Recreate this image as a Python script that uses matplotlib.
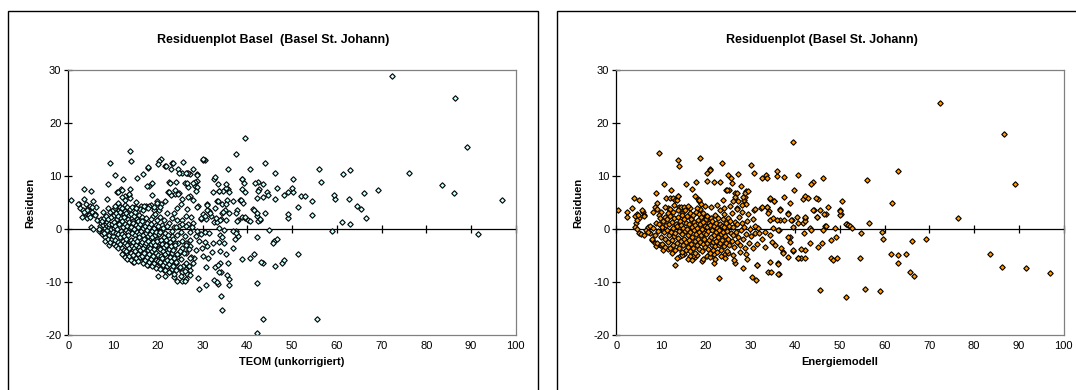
import matplotlib.pyplot as plt
from matplotlib.patches import Rectangle

plt.rcParams['font.family'] = ['Liberation Sans', 'DejaVu Sans']
plt.rcParams['axes.unicode_minus'] = False

# Residuen gegen TEOM (unkorrigiert)
teom_points = [
    (0.5, 5.5), (2.3, 4.7), (2.6, 3.9), (3.6, 7.5), (5.0, 7.2), (3.4, 5.7), (4.0, 4.8), (4.4, 3.9),
    (4.8, 4.4), (5.6, 5.3), (5.4, 3.3), (3.7, 3.0), (4.2, 2.0), (5.0, 0.3), (5.5, 0.0), (6.0, 2.8),
    (6.2, 4.1), (3.2, 3.6), (4.6, 2.6), (3.1, 2.3), (2.2, 4.8), (4.1, 3.6), (5.2, 4.1), (6.0, 2.6),
    (3.4, 3.3), (4.9, 2.3), (6.5, 1.7), (8.6, 5.6), (7.8, 3.3), (8.9, 3.9), (11.2, 4.8),
    (20.8, 13.2), (20.3, 12.8), (20.0, 12.3), (21.6, 11.9), (23.2, 12.5), (25.6, 12.6), (24.5, 11.4),
    (22.9, 11.3), (22.5, 8.8), (25.5, 10.6), (26.5, 10.5), (27.1, 10.3), (27.8, 11.3), (28.8, 10.3),
    (28.8, 9.1), (28.3, 8.2), (28.3, 8.9), (26.7, 8.0), (26.1, 8.7), (30.6, 13.1), (30.2, 13.0),
    (32.5, 9.5), (33.4, 8.4), (33.7, 7.1), (32.3, 6.9), (33.2, 5.2), (30.9, 4.7), (29.0, 4.3),
    (31.5, 3.4), (30.2, 2.8), (29.6, 1.9), (30.7, 1.9), (31.8, 2.5), (32.6, 1.3), (33.3, 1.4),
    (34.4, 3.1), (34.1, 1.9), (35.1, 3.5), (24.0, 8.9), (24.7, 6.7), (23.9, 6.6), (23.0, 6.4),
    (22.2, 6.9), (25.5, 5.7), (27.2, 6.2), (25.2, 4.7), (24.4, 3.9), (23.6, 3.0), (23.2, 2.0),
    (24.4, 1.7), (25.5, 1.7), (26.3, 2.5), (27.5, 2.3), (27.8, 1.1), (22.1, 3.0), (21.3, 1.7),
    (20.2, 3.6), (20.7, 4.7), (19.8, 5.2), (18.6, 6.4), (18.7, 8.7), (18.0, 8.2), (17.7, 11.6),
    (16.8, 10.4), (15.4, 9.7), (13.8, 14.8), (13.9, 12.8), (12.2, 9.4), (10.5, 10.2), (9.3, 12.5),
    (8.8, 8.5), (10.8, 7.0), (11.7, 7.5), (12.6, 6.3), (13.6, 6.4), (13.8, 7.5), (15.2, 5.1),
    (16.3, 4.4), (17.4, 4.3), (18.5, 4.5), (19.2, 3.5), (19.0, 2.5), (19.8, 1.7), (20.9, 0.8),
    (22.5, 1.1), (23.6, 0.4), (24.8, 0.6), (26.7, 0.9), (27.6, 0.4), (28.7, -0.4),
    (17.9, 11.7), (17.5, 8.2), (19.9, 5.0), (21.8, 11.9), (23.5, 12.5), (24.8, 10.5), (26.7, 10.6),
    (22.7, 8.7), (23.8, 7.4), (24.5, 6.6), (22.4, 7.0), (21.6, 5.2), (20.5, 4.2), (19.2, 4.1),
    (18.1, 4.4), (16.0, 3.8), (14.9, 4.1), (13.8, 5.8), (12.7, 5.5), (11.9, 6.0), (11.0, 7.0),
    (11.9, 7.4), (13.6, 6.6),
    (26.3, 10.6), (26.6, 8.6), (27.9, 8.6), (28.7, 10.2), (28.8, 8.0), (28.5, 7.2), (30.0, 13.2),
    (26.8, 6.0), (27.9, 5.5), (26.5, 3.8), (28.8, 4.1), (29.7, 2.0), (30.6, 2.5), (31.1, 3.6),
    (31.7, 3.1), (30.9, 4.5), (32.7, 3.9), (32.9, 2.1), (33.9, 1.7), (34.6, 3.3), (35.2, 1.7),
    (34.3, 4.8), (33.5, 5.2), (35.9, 3.0), (36.7, 5.3), (37.6, 3.6), (38.0, 1.7), (38.8, 2.2),
    (39.5, 2.1), (40.2, 1.7), (41.2, 3.7), (42.1, 2.5), (42.8, 1.7), (34.6, 7.2), (35.7, 7.5),
    (33.6, 7.2), (38.9, 9.4), (38.8, 7.5), (38.4, 5.5),
    (20.0, -8.9), (21.7, -8.9), (21.4, -7.7), (22.5, -8.1), (22.8, -7.1), (23.6, -9.0), (24.4, -9.8),
    (25.5, -9.9), (26.2, -9.5), (26.6, -8.4), (25.5, -8.1), (24.8, -7.4), (24.0, -6.5), (23.2, -5.8),
    (24.4, -5.2), (25.7, -6.9), (26.8, -6.9), (27.1, -7.7), (27.8, -6.5), (28.2, -5.4), (28.6, -4.0),
    (29.0, -9.2), (29.2, -11.3), (30.7, -10.6), (32.5, -9.6), (33.5, -10.3), (30.8, -7.1),
    (31.2, -5.5), (30.2, -5.1), (29.8, -3.5), (30.9, -3.3), (30.5, -2.5), (29.2, -2.2), (28.5, -1.4),
    (29.6, -1.0), (30.6, -0.5), (31.5, -0.8), (32.3, -2.7), (32.8, -7.1), (32.1, -4.4), (33.6, -2.4),
    (34.0, -1.1), (34.4, -1.6), (34.8, -0.2), (33.6, 0.1), (27.2, -3.3), (26.3, -2.7), (25.4, -3.6),
    (24.6, -2.7), (23.6, -3.6), (23.2, -1.4), (22.1, -2.4), (21.5, -4.0), (20.9, -5.2), (20.3, -6.5),
    (19.4, -5.2), (19.0, -4.0), (20.0, -3.3), (18.6, -6.5), (17.7, -6.8), (17.1, -5.8), (16.3, -5.2),
    (15.5, -4.6), (14.4, -6.2), (12.8, -5.2), (12.2, -4.6), (13.7, -4.3), (14.8, -3.3), (16.7, -3.6),
    (17.8, -3.3), (18.4, -2.4), (20.9, -3.0), (22.5, -4.6), (24.8, -4.6), (26.3, -4.6), (27.5, -5.2),
    (21.9, -6.8), (20.9, -7.1),
    (35.8, 11.3), (36.0, 6.9), (35.5, 5.4), (35.3, 7.7), (35.2, 8.4), (35.2, 4.8), (35.8, -6.4),
    (36.0, -9.5), (36.0, -10.6), (35.4, -8.7), (35.3, -4.7), (34.9, -2.7), (34.3, -15.2),
    (34.2, -12.6), (34.2, -8.1), (34.0, -6.5), (33.6, -8.2), (33.5, -6.8), (33.8, -4.1),
    (33.2, -10.0), (32.8, 9.9), (37.5, 14.1), (37.8, 1.5), (38.0, -1.3), (37.4, 3.0), (36.8, -3.6),
    (37.2, -1.9), (37.5, -0.4), (36.8, -0.4), (37.4, -0.8), (39.5, 17.1), (39.6, 7.0), (39.3, 8.6),
    (38.8, 9.4), (39.1, 4.9), (38.6, 5.5), (39.5, 2.3), (38.8, -5.6), (40.5, 11.3), (40.5, 1.6),
    (40.6, -5.5), (41.5, 3.5), (41.5, -4.8), (42.1, -19.7), (42.2, -10.1), (42.2, -1.6), (42.6, 7.5),
    (42.3, 7.2), (42.3, 8.9), (41.8, 8.7), (42.1, 5.9), (42.1, 3.0), (42.5, 1.5), (42.8, 1.8),
    (44.0, 12.4), (43.9, 3.1), (43.6, 8.4), (43.5, 6.0), (43.6, -17.0), (43.5, -6.5), (43.1, -6.2),
    (44.5, 6.9), (44.6, 6.5), (44.8, -0.1), (45.9, -2.2), (45.8, -2.7), (46.7, -1.9), (46.2, -7.0),
    (46.3, 5.7), (46.2, 10.5), (46.7, 7.7), (47.8, -6.5), (48.3, -5.9), (48.1, 6.5), (49.0, 2.0),
    (49.2, 2.9), (49.2, 6.9), (50.2, 6.9), (50.0, 7.7), (50.3, 9.4), (51.4, -4.8), (51.4, 4.2),
    (52.1, 6.3), (52.8, 6.2), (55.5, -17.0), (54.4, 2.6), (54.5, 5.2), (56.4, 8.9), (56.1, 11.4),
    (59.0, -0.4), (59.6, 5.7), (59.4, 6.5), (61.2, 1.3), (62.9, 0.9), (61.4, 10.3), (62.9, 11.1),
    (62.8, 5.7), (64.5, 4.4), (65.5, 3.7), (66.5, 2.1), (66.1, 6.7), (69.2, 7.4), (72.3, 28.8),
    (76.2, 10.6), (83.5, 8.3), (86.2, 6.7), (86.5, 24.8), (89.0, 15.5), (91.5, -1.0), (96.9, 5.5),
]

# dichter Kern der Punktwolke (TEOM)
teom_core = [
    (7.1, 0.5), (7.3, 1.2), (6.8, -0.3), (7.4, 1.8), (6.9, 0.0), (7.6, -1.0), (7.8, 0.8), (7.5, 1.5),
    (7.7, -0.5), (8.1, -1.5), (8.3, 0.2), (7.9, 2.0), (8.4, 1.0), (8.2, -2.2), (8.0, -0.8),
    (8.6, -0.2), (8.7, 1.4), (8.5, 2.5), (8.8, -1.8), (8.6, 0.6), (9.1, -3.0), (9.0, -1.2),
    (9.2, 0.4), (8.9, 1.8), (9.3, 3.2), (9.4, -2.5), (9.1, 0.9), (9.6, -0.6), (9.7, 1.0), (9.5, 2.2),
    (9.8, -1.9), (9.6, 0.0), (9.9, 3.5), (10.1, -2.8), (10.0, -1.4), (10.2, 0.2), (10.3, 1.3),
    (10.1, 2.6), (10.4, 4.0), (9.9, -0.5), (10.6, -3.2), (10.5, -2.0), (10.7, -0.8), (10.4, 0.5),
    (10.8, 1.8), (10.6, 3.0), (10.5, 4.4), (11.1, -3.5), (11.0, -2.4), (11.2, -1.0), (10.9, 0.0),
    (11.3, 1.2), (11.1, 2.4), (11.4, 3.6), (11.0, 5.0), (11.6, -2.9), (11.5, -1.6), (11.7, -0.3),
    (11.4, 0.9), (11.8, 2.0), (11.6, 3.2), (11.5, 4.2), (12.1, -4.8), (12.0, -3.6), (12.2, -2.2),
    (11.9, -1.0), (12.3, 0.3), (12.1, 1.5), (12.4, 2.8), (12.0, 4.0), (12.6, -5.3), (12.5, -4.0),
    (12.7, -2.6), (12.4, -1.4), (12.8, -0.2), (12.6, 1.0), (12.5, 2.2), (12.7, 3.4), (12.6, 4.6),
    (13.1, -5.6), (13.0, -4.2), (13.2, -3.0), (12.9, -1.8), (13.3, -0.5), (13.1, 0.6), (13.4, 1.8),
    (13.0, 3.0), (13.2, 4.2), (13.6, -5.0), (13.5, -3.6), (13.7, -2.3), (13.4, -1.1), (13.8, 0.2),
    (13.6, 1.4), (13.5, 2.6), (13.7, 3.8), (14.1, -5.9), (14.0, -4.5), (14.2, -3.2), (13.9, -2.0),
    (14.3, -0.8), (14.1, 0.4), (14.4, 1.6), (14.0, 2.9), (14.2, 4.1), (14.6, -6.3), (14.5, -4.9),
    (14.7, -3.6), (14.4, -2.5), (14.8, -1.2), (14.6, 0.0), (14.5, 1.2), (14.7, 2.4), (15.1, -5.5),
    (15.0, -4.2), (15.2, -3.0), (14.9, -1.8), (15.3, -0.6), (15.1, 0.7), (15.4, 1.9), (15.0, 3.2),
    (15.2, 4.0), (15.6, -6.0), (15.5, -4.8), (15.7, -3.4), (15.4, -2.2), (15.8, -1.0), (15.6, 0.3),
    (15.5, 1.5), (15.7, 2.6), (16.1, -5.2), (16.0, -4.0), (16.2, -2.8), (15.9, -1.5), (16.3, -0.3),
    (16.1, 1.0), (16.4, 2.2), (16.6, -6.4), (16.5, -5.0), (16.7, -3.6), (16.4, -2.4), (16.8, -1.1),
    (16.6, 0.2), (16.5, 1.6), (16.7, 3.6), (17.1, -5.8), (17.0, -4.5), (17.2, -3.1), (16.9, -1.9),
    (17.3, -0.7), (17.1, 0.6), (17.4, 2.0), (17.0, 4.4), (17.6, -6.8), (17.5, -5.3), (17.7, -4.0),
    (17.4, -2.7), (17.8, -1.4), (17.6, -0.1), (17.5, 1.2), (17.7, 3.9), (18.1, -6.2), (18.0, -4.8),
    (18.2, -3.5), (17.9, -2.2), (18.3, -0.9), (18.1, 0.4), (18.4, 1.8), (18.6, -7.0), (18.5, -5.6),
    (18.7, -4.2), (18.4, -2.9), (18.8, -1.6), (18.6, -0.3), (18.5, 1.0), (19.1, -6.5), (19.0, -5.0),
    (19.2, -3.7), (18.9, -2.4), (19.3, -1.1), (19.1, 0.2), (19.4, 2.8), (19.6, -7.3), (19.5, -5.9),
    (19.7, -4.6), (19.4, -3.1), (19.8, -1.8), (19.6, -0.5), (19.5, 0.8), (20.1, -6.0), (20.0, -4.9),
    (20.2, -3.6), (19.9, -2.3), (20.3, -1.0), (20.1, 0.5), (20.4, 2.2), (20.6, -7.5), (20.5, -6.3),
    (20.7, -5.0), (20.4, -3.7), (20.8, -2.0), (20.6, -0.6), (21.1, -6.8), (21.0, -5.5), (21.2, -4.2),
    (20.9, -2.9), (21.3, -1.5), (21.1, 0.2), (21.6, -7.8), (21.5, -6.2), (21.7, -4.8), (21.4, -3.4),
    (21.8, -2.0), (21.6, -0.8), (22.1, -7.0), (22.0, -5.8), (22.2, -4.4), (21.9, -3.0), (22.3, -1.2),
    (22.1, 0.6), (22.6, -8.2), (22.5, -6.6), (22.7, -5.2), (22.4, -3.8), (22.8, -2.4), (23.1, -7.5),
    (23.0, -6.0), (23.2, -4.6), (22.9, -3.2), (23.3, -1.8), (23.1, -0.4), (23.6, -8.5), (23.5, -7.0),
    (23.7, -5.5), (23.4, -4.0), (23.8, -2.6), (24.1, -7.8), (24.0, -6.3), (24.2, -4.8), (23.9, -3.0),
    (24.3, -1.2), (24.1, 0.4), (25.1, -8.8), (25.0, -7.2), (25.2, -5.6), (24.9, -4.1), (25.3, -2.2),
    (25.1, -0.6), (25.4, 1.0), (26.1, -9.8), (26.0, -8.0), (26.2, -6.4), (25.9, -4.6), (26.3, -3.0),
    (26.1, -1.4), (26.4, 0.5), (27.1, -8.6), (27.0, -7.0), (27.2, -5.4), (26.9, -3.8), (27.3, -2.0),
    (27.1, -0.5),
]

# Residuen gegen Energiemodell
energie_points = [
    (0.5, 3.6), (2.5, 3.3), (2.3, 2.2), (3.6, 3.9), (3.9, 5.8), (5.2, 5.4), (4.7, 2.9), (5.1, 2.0),
    (4.4, 1.1), (5.9, 3.3), (6.3, 2.6), (4.1, 0.4), (4.6, 0.0), (5.0, -0.8), (5.6, -0.9), (6.2, -1.1),
    (6.7, -0.2), (7.1, 0.4), (7.5, -0.8), (7.9, -2.1), (8.6, -2.6), (9.0, -3.3), (9.8, -3.0),
    (4.1, 2.4), (4.9, 2.7), (5.7, 3.5), (6.1, 2.4), (4.6, 1.7), (9.1, 4.9), (8.3, 3.3), (8.7, 4.1),
    (8.9, 6.8), (9.1, 3.8), (9.5, 14.4), (10.7, 8.4), (11.1, 5.9), (12.0, 5.9), (12.8, 5.9),
    (13.2, 5.4), (12.3, 7.4), (13.9, 6.2), (13.8, 13.1), (14.0, 11.8), (15.5, 8.4), (16.9, 7.5),
    (17.9, 8.9), (18.2, 5.6), (18.6, 5.3), (18.9, 4.7), (18.7, 13.4), (13.2, -6.7), (17.5, -5.2),
    (19.2, -6.1), (21.9, -6.5), (22.9, -9.2), (13.5, 5.4), (13.7, 6.3), (14.0, 4.1), (14.5, 4.1),
    (15.2, 4.1), (11.6, 3.9), (17.6, 6.3), (18.4, 5.5), (18.7, 3.8), (16.5, 3.9), (16.7, 2.1),
    (19.1, 2.4), (20.2, 2.4), (21.0, 11.3), (25.1, 7.4),
    (20.9, 11.1), (20.3, 10.6), (20.2, 9.0), (21.9, 8.9), (23.1, 8.9), (23.6, 12.5), (24.6, 7.3),
    (24.9, 10.2), (25.7, 9.7), (25.8, 8.6), (26.5, 6.7), (26.5, 6.1), (27.3, 5.3), (28.6, 5.4),
    (28.9, 4.8), (27.2, 10.4), (27.8, 8.2), (28.9, 7.1), (28.8, 6.1), (28.8, 6.7), (26.5, -6.4),
    (26.4, -5.8), (28.4, -7.4), (24.7, 7.4), (26.9, 6.7), (28.4, 6.1), (28.1, 4.6), (26.2, 5.2),
    (23.9, 5.5), (26.9, 3.9), (29.5, 7.1),
    (30.2, 12.1), (30.7, 10.5), (30.9, 3.6), (32.4, 4.0), (33.8, 4.2), (32.6, 9.7), (33.5, 10.1),
    (30.3, -9.1), (31.2, -9.6), (31.5, -6.8), (34.0, -8.1), (34.4, -6.3), (34.1, 3.4), (34.4, 5.6),
    (35.2, 5.2), (36.0, 10.0), (36.0, 11.0), (36.1, -6.4), (36.3, -8.4), (36.3, -0.2), (36.6, 1.7),
    (36.7, 3.7), (36.9, -3.6), (37.3, -4.4), (37.6, 6.0), (37.5, 9.8), (33.6, 9.6),
    (31.0, 3.7), (32.5, 4.1), (33.6, 4.1), (34.0, 3.0), (34.4, 1.7), (35.1, 2.0), (35.9, 1.7),
    (36.6, 3.6), (37.4, 1.7), (38.5, 3.0), (39.2, 1.7), (40.3, 2.3), (41.8, 1.2), (42.2, 2.0),
    (44.1, 3.6), (44.8, 2.3), (45.6, 3.6), (46.9, 2.8), (46.7, 0.6), (47.4, 4.1), (50.0, 3.6),
    (50.2, 2.8), (51.5, 1.0), (35.1, 0.2), (36.2, -0.1), (33.3, -0.5), (31.8, 0.2), (31.0, -0.8),
    (34.4, -1.1), (34.4, 5.8), (35.3, 5.2),
    (38.9, -1.6), (38.4, -1.6), (38.9, -2.4), (38.5, 2.9), (39.0, 1.7), (38.9, 4.9), (39.5, -4.1),
    (39.4, 0.4), (39.7, 7.3), (39.5, 16.5), (40.6, 1.2), (40.6, 10.1), (40.6, -5.4), (41.3, -5.5),
    (42.3, -5.5), (42.3, -3.9), (41.3, -3.8), (41.9, -0.8), (42.1, 1.5), (42.3, 2.3), (41.7, 5.7),
    (42.1, 6.2), (42.9, 5.9), (43.3, -2.7), (44.0, 3.6), (44.0, 8.8), (43.6, 8.5), (43.4, 0.1),
    (43.6, -0.2), (45.0, 5.7), (44.6, 5.8), (45.0, -3.4), (44.9, 2.2), (46.4, 2.8), (46.3, 9.6),
    (46.9, 0.6), (46.3, -0.2), (46.1, -2.6), (45.6, -11.5), (48.1, -2.1), (47.9, -5.4), (48.4, -5.8),
    (49.0, 0.1), (49.2, -1.6), (49.3, -5.4), (50.0, 2.6), (50.1, 3.4), (50.4, 5.2), (51.4, -12.8),
    (51.3, 0.9), (51.7, 0.8), (52.3, 0.5), (52.8, 0.1), (54.6, -0.7), (54.5, -5.4), (55.7, -11.3),
    (56.4, 1.2), (56.1, 9.3), (59.0, -11.7), (59.6, -1.9), (59.3, -0.6), (61.4, -4.8), (61.6, 4.9),
    (62.9, 11.0), (62.9, -6.4), (62.9, -4.9), (64.7, -4.7), (66.5, -8.8), (65.6, -8.1), (66.2, -2.2),
    (69.2, -1.9), (72.4, 23.7), (76.3, 2.1), (83.5, -4.7), (86.2, -7.1), (86.6, 18.0), (89.1, 8.4),
    (91.7, -7.4), (97.0, -8.3),
    (14.3, -5.1), (17.2, -5.1), (20.2, -5.1), (21.9, -4.7), (24.3, -4.8), (29.2, -5.6), (31.4, -6.7),
    (34.6, -8.1), (36.2, -8.5), (36.1, -6.6), (37.2, -4.5), (38.5, -5.2), (39.6, -4.0), (40.7, -5.5),
    (15.2, -4.8), (16.5, -5.0), (18.1, -4.9), (21.0, -5.3), (23.4, -5.0), (25.0, -4.6), (27.6, -4.4),
    (29.0, -4.8), (30.5, -3.6), (31.5, -2.8), (32.5, -1.9), (33.2, -3.4), (34.8, -2.4), (35.6, -3.0),
    (32.0, -0.8), (31.0, 0.6), (30.5, 1.8), (29.5, 2.8), (28.2, 3.2), (27.0, 3.8), (25.4, 4.3),
    (24.0, 3.9), (22.6, 4.6), (21.2, 4.1), (19.8, 4.4), (18.0, 3.9), (16.0, 4.3), (14.8, 3.0),
    (13.0, 4.6), (12.0, 3.8), (11.0, 4.2), (10.0, 3.3), (9.5, 2.6), (10.5, -4.0), (11.5, -3.8),
    (12.5, -4.5), (13.6, -5.4), (14.6, -4.9), (16.0, -5.6), (17.0, -5.8), (19.5, -5.6), (22.0, -5.6),
    (24.4, -5.4), (26.0, -4.9),
]

# dichter Kern der Punktwolke (Energiemodell)
energie_core = [
    (7.2, -0.5), (7.6, 0.6), (8.0, -1.8), (8.3, 0.2), (8.7, -1.2), (8.9, 1.1), (9.2, -2.6), (9.4, -0.4),
    (9.6, 0.9), (9.8, 2.0), (9.9, -3.0), (10.1, -1.5), (10.2, 0.3), (10.4, 1.6), (10.3, -2.8),
    (10.6, -0.6), (10.8, 2.3), (10.9, -3.4), (11.0, -1.9), (11.1, 0.7), (11.3, 1.9), (11.4, -0.2),
    (11.5, -2.5), (11.6, 3.0), (11.8, -1.1), (11.9, 0.9), (12.0, -3.6), (12.1, 2.4), (12.2, -0.5),
    (12.4, -2.0), (12.5, 1.3), (12.6, -3.1), (12.7, 0.1), (12.8, 3.2), (12.9, -1.4), (13.0, 2.0),
    (13.1, -4.0), (13.2, -0.8), (13.3, 1.0), (13.5, -2.6), (13.6, 0.5), (13.7, 3.5), (13.8, -1.7),
    (13.9, 2.2), (14.0, -3.5), (14.1, -0.3), (14.2, 1.5), (14.4, -2.2), (14.5, 0.8), (14.6, -4.4),
    (14.7, 2.7), (14.8, -1.0), (14.9, 0.2), (15.0, -3.0), (15.1, 1.8), (15.2, -1.8), (15.3, 3.6),
    (15.4, -0.4), (15.5, -4.0), (15.6, 1.2), (15.7, -2.5), (15.8, 0.0), (15.9, 2.5), (16.0, -3.4),
    (16.1, -1.2), (16.2, 1.0), (16.3, -2.0), (16.4, 3.1), (16.5, -0.6), (16.6, -4.2), (16.7, 1.9),
    (16.8, -2.8), (16.9, 0.4), (17.0, -1.5), (17.1, 2.7), (17.2, -3.6), (17.3, -0.1), (17.4, 1.4),
    (17.5, -2.3), (17.6, 0.8), (17.7, -4.6), (17.8, 3.3), (17.9, -1.0), (18.0, 0.2), (18.1, -3.0),
    (18.2, 1.7), (18.3, -1.8), (18.4, 2.9), (18.5, -0.5), (18.6, -3.8), (18.7, 0.9), (18.8, -2.4),
    (18.9, 2.2), (19.0, -1.2), (19.1, 0.0), (19.2, -4.2), (19.3, 1.3), (19.4, -2.9), (19.5, 3.0),
    (19.6, -0.7), (19.7, -1.9), (19.8, 0.6), (19.9, -3.4), (20.0, 1.8), (20.1, -1.0), (20.2, -2.6),
    (20.3, 0.3), (20.4, 2.4), (20.5, -3.8), (20.6, -0.4), (20.7, 1.1), (20.8, -2.0), (20.9, -4.6),
    (21.0, 0.8), (21.1, -1.5), (21.2, 2.0), (21.3, -3.1), (21.4, -0.2), (21.5, 1.5), (21.6, -2.4),
    (21.7, -4.0), (21.8, 0.5), (21.9, -1.2), (22.0, 2.6), (22.1, -3.2), (22.2, -0.6), (22.3, 1.2),
    (22.4, -2.2), (22.5, -4.4), (22.6, 0.2), (22.7, -1.6), (22.8, 2.0), (22.9, -3.0), (23.0, -0.2),
    (23.1, 1.0), (23.2, -2.6), (23.3, 3.6), (23.4, -1.0), (23.5, -4.0), (23.6, 0.6), (23.7, -2.0),
    (23.8, 1.8), (23.9, -0.6), (24.0, -3.2), (24.1, 0.3), (24.2, 2.8), (24.3, -1.4), (24.5, -2.6),
    (24.6, 1.2), (24.7, -0.3), (24.8, -4.2), (24.9, 2.0), (25.0, -1.8), (25.2, 0.6), (25.3, -3.0),
    (25.5, 1.6), (25.6, -0.8), (25.8, -2.2), (25.9, 3.0), (26.0, -1.2), (26.2, 0.4), (26.4, -3.4),
    (26.5, 1.4), (26.7, -0.6), (26.9, -2.4), (27.1, 0.9), (27.3, -1.5), (27.5, 2.2), (27.7, -3.0),
    (27.9, -0.2), (28.1, 1.2), (28.3, -1.9), (28.5, 0.4), (28.8, -3.6), (29.0, -0.9), (29.3, 1.6),
    (29.6, -2.6), (29.9, 0.0), (30.2, -1.4),
]

x_ticks = [0, 10, 20, 30, 40, 50, 60, 70, 80, 90, 100]
y_ticks = [-20, -10, 0, 10, 20, 30]
x_lim = (0, 100)
y_lim = (-20, 30)

fig = plt.figure(figsize=(10.76, 3.9), dpi=100)


def residual_panel(rect, points, face, title, title_x, xlabel, frame_x):
    # Rahmen des Diagrammbereichs (wie in Excel)
    fig.patches.append(Rectangle((frame_x, -0.02), 0.492, 0.9918, transform=fig.transFigure,
                                 fill=False, edgecolor='black', linewidth=1.0))
    fig.text(title_x, 0.897, title, ha='center', va='center', fontsize=9, fontweight='bold')

    ax = fig.add_axes(rect)
    xs = [p[0] for p in points]
    ys = [p[1] for p in points]
    ax.plot(xs, ys, linestyle='none', marker='D', markersize=2.8,
            markerfacecolor=face, markeredgecolor='black', markeredgewidth=0.8)

    ax.set_xlim(*x_lim)
    ax.set_ylim(*y_lim)
    ax.set_xticks(x_ticks)
    ax.set_yticks(y_ticks)
    for side in ['top', 'right', 'bottom']:
        ax.spines[side].set_color('#808080')
        ax.spines[side].set_linewidth(0.9)
    ax.spines['left'].set_linewidth(0.9)
    ax.tick_params(axis='x', length=0, pad=4, labelsize=8)
    ax.tick_params(axis='y', direction='inout', length=6, width=0.9, pad=2, labelsize=8)

    # x-Achse schneidet bei 0
    zero = (0 - y_lim[0]) / (y_lim[1] - y_lim[0])
    sec = ax.secondary_xaxis(zero)
    sec.set_xticks(x_ticks)
    sec.tick_params(direction='inout', length=6, width=0.9, labelbottom=False, labeltop=False)
    sec.spines['bottom'].set_linewidth(0.9)

    ax.set_xlabel(xlabel, fontsize=8, fontweight='bold')
    ax.xaxis.set_label_coords(0.5, -0.1)
    ax.xaxis.label.set_va('center')
    ax.set_ylabel('Residuen', fontsize=8, fontweight='bold', va='center')
    ax.yaxis.set_label_coords(-0.085, 0.5)
    return ax


residual_panel([0.0635, 0.141, 0.4158, 0.6795], teom_points + teom_core, '#ccffff',
               'Residuenplot Basel  (Basel St. Johann)', 0.2537, 'TEOM (unkorrigiert)', 0.0077)
residual_panel([0.5727, 0.141, 0.4158, 0.6795], energie_points + energie_core, '#ff9900',
               'Residuenplot (Basel St. Johann)', 0.7637, 'Energiemodell', 0.518)

fig.savefig('out.png', dpi=100)
